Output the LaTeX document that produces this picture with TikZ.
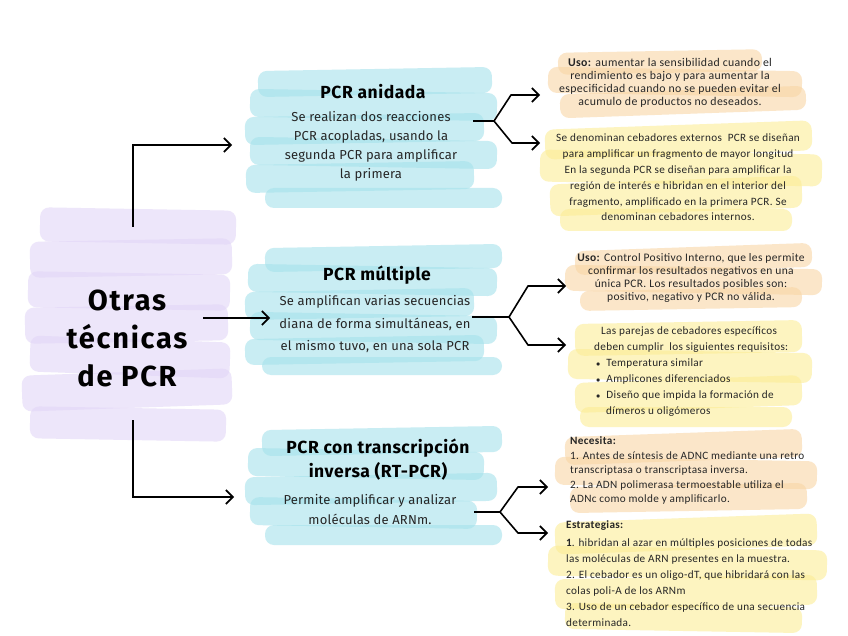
\documentclass[tikz,border=0pt]{standalone}
\usepackage{fontspec}
\setmainfont{Fira Sans}
\newfontfamily\carl[LetterSpace=3]{Carlito}
\usetikzlibrary{arrows.meta}
\definecolor{lav}{RGB}{226,214,247}
\definecolor{aqua}{RGB}{165,226,235}
\definecolor{peach}{RGB}{249,214,165}
\definecolor{lemon}{RGB}{252,237,150}
\newcommand\brush[6]{\fill[#1,fill opacity=0.6,rounded corners=9pt,rotate around={#6:({(#2+#3)/2},#4)}] (#2,{#4-#5/2}) rectangle (#3,{#4+#5/2});}
\tikzset{
  arr/.style={draw=black,line width=1.6pt,-{Straight Barb[length=7pt,width=14pt,line width=1.6pt]}},
  ln/.style={draw=black,line width=1.6pt},
  ttl/.style={font=\fontsize{17.5}{24}\selectfont\bfseries\addfontfeatures{LetterSpace=3},align=center,inner sep=0pt},
  bdy/.style={font=\fontsize{13}{19}\selectfont\addfontfeatures{LetterSpace=1.5},align=center,inner sep=0pt,text=black!85},
  ytxt/.style={font=\carl\fontsize{11.2}{13}\selectfont,inner sep=0pt,text=black!85},
}
\begin{document}
\begin{tikzpicture}[x=1pt,y=-1pt]
\useasboundingbox (0,0) rectangle (848,636);
\fill[white] (0,0) rectangle (848,636);
% purple strokes
\brush{lav}{40}{236}{226}{34}{-1}
\brush{lav}{30}{232}{258}{36}{1}
\brush{lav}{28}{230}{291}{36}{-1}
\brush{lav}{25}{228}{324}{36}{1}
\brush{lav}{30}{230}{357}{36}{-2}
\brush{lav}{22}{232}{390}{36}{2}
\brush{lav}{30}{226}{424}{32}{-1}
% blue 1
\brush{aqua}{258}{492}{82}{26}{1}
\brush{aqua}{250}{497}{105}{28}{-1}
\brush{aqua}{245}{484}{129}{28}{1}
\brush{aqua}{250}{497}{153}{28}{-1}
\brush{aqua}{246}{474}{177}{28}{1}
\brush{aqua}{265}{502}{198}{20}{0}
% blue 2
\brush{aqua}{265}{502}{258}{24}{1}
\brush{aqua}{248}{497}{280}{28}{-1}
\brush{aqua}{245}{474}{304}{28}{1}
\brush{aqua}{250}{497}{328}{28}{-1}
\brush{aqua}{245}{484}{350}{26}{1}
\brush{aqua}{262}{502}{366}{18}{0}
% blue 3
\brush{aqua}{262}{502}{441}{26}{1}
\brush{aqua}{248}{484}{464}{28}{-1}
\brush{aqua}{245}{497}{489}{28}{1}
\brush{aqua}{250}{477}{513}{28}{-1}
\brush{aqua}{265}{502}{535}{20}{0}
% orange 1
\brush{peach}{558}{762}{62}{22}{1}
\brush{peach}{548}{802}{82}{26}{-1}
\brush{peach}{560}{806}{102}{24}{2}
% yellow 2
\brush{lemon}{545}{812}{140}{30}{2}
\brush{lemon}{540}{822}{168}{32}{-1}
\brush{lemon}{550}{802}{196}{32}{2}
\brush{lemon}{560}{792}{220}{22}{0}
% orange 3
\brush{peach}{575}{812}{259}{24}{2}
\brush{peach}{565}{822}{280}{26}{-1}
\brush{peach}{580}{802}{299}{20}{1}
% yellow 4
\brush{lemon}{575}{802}{338}{32}{1}
\brush{lemon}{568}{812}{366}{30}{-1}
\brush{lemon}{575}{802}{394}{30}{2}
\brush{lemon}{580}{792}{417}{20}{0}
% orange 5
\brush{peach}{565}{802}{447}{28}{2}
\brush{peach}{555}{817}{473}{28}{-1}
\brush{peach}{570}{807}{498}{26}{1}
% yellow 6
\brush{lemon}{555}{817}{534}{32}{2}
\brush{lemon}{548}{827}{563}{30}{-1}
\brush{lemon}{555}{817}{592}{30}{1}
\brush{lemon}{565}{802}{618}{26}{-1}

% central
\node[font=\fontsize{29}{38}\selectfont\bfseries\addfontfeatures{LetterSpace=6},align=center,inner sep=0pt] (ctr) at (127,338) {Otras\\técnicas\\de PCR};

% blue boxes
\node[ttl] (t1) at (373,92) {PCR anidada};
\node[bdy] (b1) at (371,146.5) {Se realizan dos reacciones\\PCR acopladas, usando la\\segunda PCR para amplificar\\la primera};
\node[ttl] (t2) at (377,275) {PCR múltiple};
\node[bdy,font=\fontsize{13}{22.5}\selectfont\addfontfeatures{LetterSpace=1.5}] (b2) at (375,324.5) {Se amplifican varias secuencias\\diana de forma simultáneas, en\\el mismo tuvo, en una sola PCR};
\node[ttl] (t3) at (378,460) {PCR con transcripción\\inversa (RT-PCR)};
\node[bdy,font=\fontsize{13}{20}\selectfont\addfontfeatures{LetterSpace=1.5}] (b3) at (370,510) {Permite amplificar y analizar\\moléculas de ARNm.};

% yellow/orange texts
\node[ytxt,align=center,font=\carl\fontsize{11.8}{13}\selectfont] (y1) at (670,82.5) {\textbf{Uso:} aumentar la sensibilidad cuando el\\rendimiento es bajo y para aumentar la\\especificidad cuando no se pueden evitar el\\acumulo de productos no deseados.};
\node[ytxt,align=center,font=\carl\fontsize{11.2}{15.8}\selectfont] (y2) at (678,177.5) {Se denominan cebadores externos\ \ PCR se diseñan\\para amplificar un fragmento de mayor longitud\\En la segunda PCR se diseñan para amplificar la\\región de interés e hibridan en el interior del\\fragmento, amplificado en la primera PCR. Se\\denominan cebadores internos.};
\node[ytxt,align=center,font=\carl\fontsize{11.5}{12.7}\selectfont] (y3) at (691,278) {\textbf{Uso:} Control Positivo Interno, que les permite\\confirmar los resultados negativos en una\\única PCR. Los resultados posibles son:\\positivo, negativo y PCR no válida.};
\node[ytxt,align=left,anchor=north west,font=\carl\fontsize{11.2}{16}\selectfont] (y4) at (593,327) {\hspace*{8pt}Las parejas de cebadores específicos\\\hspace*{1pt}deben cumplir\ \ los siguientes requisitos:\\\hspace*{3pt}{\footnotesize$\bullet$}\hspace{6pt}Temperatura similar\\\hspace*{3pt}{\footnotesize$\bullet$}\hspace{6pt}Amplicones diferenciados\\\hspace*{3pt}{\footnotesize$\bullet$}\hspace{6pt}Diseño que impida la formación de\\\hspace*{13pt}dímeros u oligómeros};
\node[ytxt,align=left,anchor=north west,font=\carl\fontsize{11.2}{13.8}\selectfont] (y5) at (570,436) {\textbf{Necesita:}\\[2pt]1. Antes de síntesis de ADNC mediante una retro\\transcriptasa o transcriptasa inversa.\\[1pt]2. La ADN polimerasa termoestable utiliza el\\ADNc como molde y amplificarlo.};
\node[ytxt,align=left,anchor=north west,font=\carl\fontsize{11.2}{15.9}\selectfont] (y6) at (566,520) {\textbf{Estrategias:}\\[3pt]\textbf{1}. hibridan al azar en múltiples posiciones de todas\\las moléculas de ARN presentes en la muestra.\\2. El cebador es un oligo-dT, que hibridará con las\\colas poli-A de los ARNm\\3. Uso de un cebador específico de una secuencia\\determinada.};

% main connectors
\coordinate (c1) at (133,227);
\coordinate (e1) at (232,145);
\coordinate (c2) at (203,318);
\coordinate (e2) at (270,318);
\coordinate (c3) at (133,420);
\coordinate (e3) at (234,497);
\draw[arr] (c1) |- (e1);
\draw[arr] (c2) -- (e2);
\draw[arr] (c3) |- (e3);

% fork 1
\coordinate (f1s) at (473,121);
\coordinate (f1j) at (494,121);
\coordinate (f1a) at (511,95);
\coordinate (f1b) at (512,143);
\coordinate (f1at) at (540,95);
\coordinate (f1bt) at (540,143);
\draw[ln,line join=round] (f1s) -- (f1j);
\draw[arr,line join=round] (f1j) -- (f1a) -- (f1at);
\draw[arr,line join=round] (f1j) -- (f1b) -- (f1bt);
% fork 2
\coordinate (f2s) at (472,317);
\coordinate (f2j) at (509,317);
\coordinate (f2a) at (528,286);
\coordinate (f2b) at (528,345);
\coordinate (f2at) at (566,286);
\coordinate (f2bt) at (566,345);
\draw[ln,line join=round] (f2s) -- (f2j);
\draw[arr,line join=round] (f2j) -- (f2a) -- (f2at);
\draw[arr,line join=round] (f2j) -- (f2b) -- (f2bt);
% fork 3
\coordinate (f3s) at (474,512);
\coordinate (f3j) at (500,512);
\coordinate (f3a) at (518,487);
\coordinate (f3b) at (518,533);
\coordinate (f3at) at (548,487);
\coordinate (f3bt) at (548,533);
\draw[ln,line join=round] (f3s) -- (f3j);
\draw[arr,line join=round] (f3j) -- (f3a) -- (f3at);
\draw[arr,line join=round] (f3j) -- (f3b) -- (f3bt);
\end{tikzpicture}
\end{document}
